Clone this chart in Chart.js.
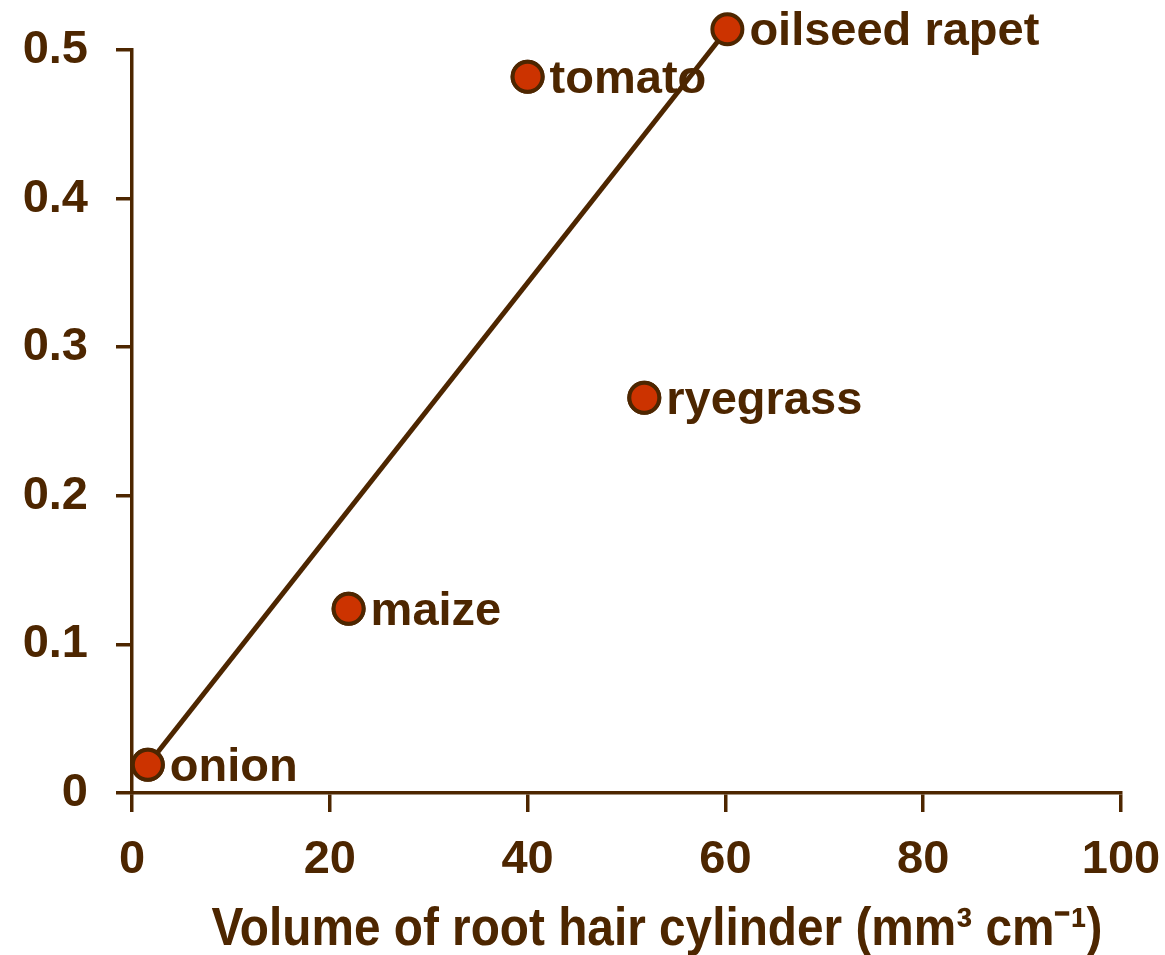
<!DOCTYPE html>
<html>
<head>
<meta charset="utf-8">
<script src="https://cdn.jsdelivr.net/npm/chart.js@4/dist/chart.umd.min.js"></script>
<style>
  html, body { margin: 0; padding: 0; background: #fff; }
  #wrap { width: 1165px; height: 955px; }
</style>
</head>
<body>
<div id="wrap"><canvas id="c" width="1165" height="955"></canvas></div>
<script>
// ---------------- DATA ----------------
const crops = ["onion", "maize", "tomato", "oilseed rapet", "ryegrass"];
const volume = [1.6, 21.9, 40.0, 60.2, 51.8];
const uptake = [0.019, 0.124, 0.482, 0.514, 0.266];

// fitted line, onion -> oilseed rape
const fitX = [1.6, 60.2];
const fitY = [0.019, 0.514];

const xTicks = [0, 20, 40, 60, 80, 100];
const yTicks = [0, 0.1, 0.2, 0.3, 0.4, 0.5];

const xTitle = "Volume of root hair cylinder (mm\u00b3 cm\u207b\u00b9)";

const brown = "#4d2600";
const red = "#cc3300";
const FONT = "'Liberation Sans', Arial, sans-serif";

// ---------------- LABELS ----------------
const pointLabels = {
    id: "pointLabels",
    afterDatasetsDraw(chart) {
        const ctx = chart.ctx;
        const meta = chart.getDatasetMeta(1);
        const full = { left: 0, top: 0, right: chart.width, bottom: chart.height };

        // points above the axis top get skipped by chart.js, draw them again
        meta.data.forEach(pt => pt.draw(ctx, full));

        ctx.save();
        ctx.fillStyle = brown;
        ctx.font = "bold 47px " + FONT;
        ctx.textBaseline = "alphabetic";
        ctx.textAlign = "left";
        meta.data.forEach((pt, i) => {
            ctx.fillText(crops[i], pt.x + 22, pt.y + 16);
        });

        // axis title, condensed like the original
        ctx.font = "bold 53px " + FONT;
        ctx.textAlign = "center";
        const w = ctx.measureText(xTitle).width;
        ctx.translate(657, 945);
        ctx.scale(891 / w, 1);
        ctx.fillText(xTitle, 0, 0);
        ctx.restore();
    }
};

new Chart(document.getElementById("c"), {
    type: "scatter",
    data: {
        datasets: [
            {
                type: "line",
                order: 1,
                data: fitX.map((x, i) => ({ x: x, y: fitY[i] })),
                borderColor: brown,
                borderWidth: 5,
                pointRadius: 0,
                fill: false,
                clip: false
            },
            {
                order: 0,
                data: volume.map((x, i) => ({ x: x, y: uptake[i] })),
                backgroundColor: red,
                borderColor: brown,
                borderWidth: 4,
                pointRadius: 15,
                clip: false
            }
        ]
    },
    options: {
        responsive: false,
        animation: false,
        layout: { padding: { top: 50, right: 44, left: 0, bottom: 0 } },
        plugins: { legend: { display: false }, tooltip: { enabled: false } },
        scales: {
            x: {
                type: "linear",
                min: 0, max: 100,
                afterBuildTicks: s => { s.ticks = xTicks.map(v => ({ value: v })); },
                afterFit: s => { s.height = 162; s.paddingLeft = 0; s.paddingRight = 0; },
                border: { color: brown, width: 3.5 },
                grid: { drawOnChartArea: false, color: brown, lineWidth: 3.5, tickLength: 19 },
                ticks: {
                    color: brown, padding: 20,
                    font: { family: FONT, size: 47, weight: "bold" }
                }
            },
            y: {
                type: "linear",
                min: 0, max: 0.5,
                afterBuildTicks: s => { s.ticks = yTicks.map(v => ({ value: v })); },
                afterFit: s => { s.width = 132; s.paddingTop = 0; s.paddingBottom = 0; },
                border: { color: brown, width: 3.5 },
                grid: { drawOnChartArea: false, color: brown, lineWidth: 3.5, tickLength: 16 },
                ticks: {
                    color: brown, padding: 28,
                    callback: v => v === 0 ? "0" : v.toFixed(1),
                    font: { family: FONT, size: 47, weight: "bold" }
                }
            }
        }
    },
    plugins: [pointLabels]
});
</script>
</body>
</html>
